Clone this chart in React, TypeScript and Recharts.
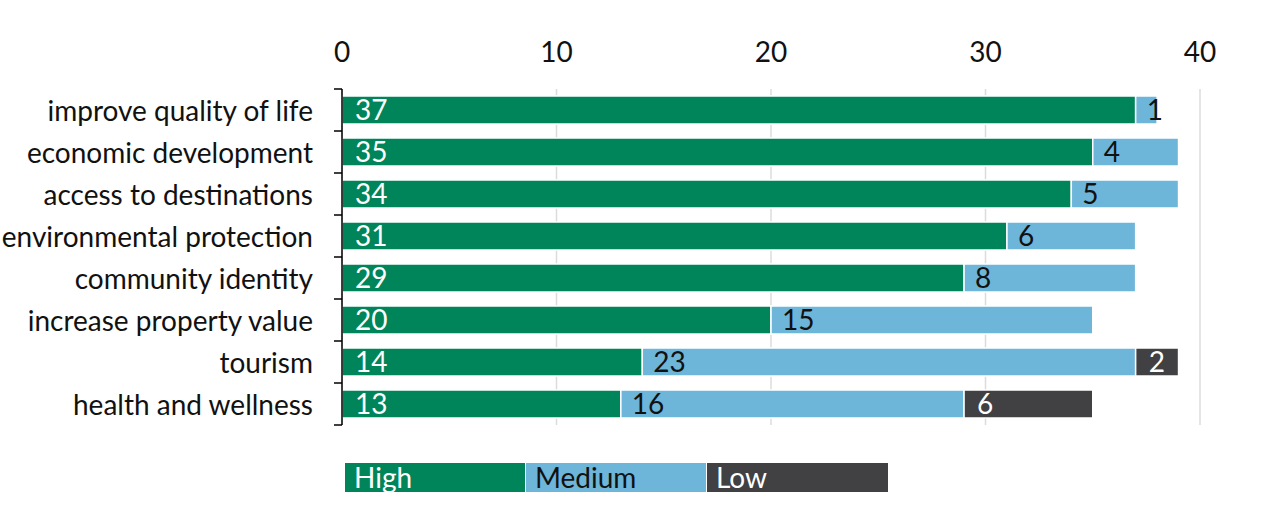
import React from 'react';
import { BarChart, Bar, XAxis, YAxis, CartesianGrid, LabelList } from 'recharts';

const categories = [
  'improve quality of life',
  'economic development',
  'access to destinations',
  'environmental protection',
  'community identity',
  'increase property value',
  'tourism',
  'health and wellness',
];
const highValues = [37, 35, 34, 31, 29, 20, 14, 13];
const mediumValues = [1, 4, 5, 6, 8, 15, 23, 16];
const lowValues = [0, 0, 0, 0, 0, 0, 2, 6];
const xTicks = [0, 10, 20, 30, 40];

const seriesNames = ['High', 'Medium', 'Low'];
const COLORS = ['#00855a', '#6db5d9', '#414042'];
const LABEL_COLORS = ['#ffffff', '#111111', '#ffffff'];

const data = categories.map((c, i) => ({
  name: c,
  High: highValues[i],
  Medium: mediumValues[i],
  Low: lowValues[i],
}));

const W = 1266;
const H = 514;
const MARGIN = { top: 0, right: 66, bottom: 89, left: 0 };
const X_AXIS_H = 89;
const Y_AXIS_W = 342;
const PLOT_H = H - MARGIN.top - MARGIN.bottom - X_AXIS_H;
const BAND = PLOT_H / categories.length;
const AXIS_X = MARGIN.left + Y_AXIS_W;
const FONT = 'Lato, "Open Sans", sans-serif';
const FS = 28;

const YTick = (props: any) => {
  const { y, payload, index } = props;
  const top = y - BAND / 2;
  return (
    <g>
      <line x1={AXIS_X - 8} x2={AXIS_X} y1={top} y2={top} stroke="#000" strokeWidth={1.5} />
      {index === categories.length - 1 && (
        <line x1={AXIS_X - 8} x2={AXIS_X} y1={y + BAND / 2} y2={y + BAND / 2} stroke="#000" strokeWidth={1.5} />
      )}
      <text x={AXIS_X - 29} y={y} textAnchor="end" dominantBaseline="central" fontSize={FS} fill="#111" fontFamily={FONT}>
        {payload.value}
      </text>
    </g>
  );
};

const LegendBox = () => (
  <div style={{ position: 'absolute', top: 463, left: 345, display: 'flex', fontFamily: FONT, fontSize: FS }}>
    {seriesNames.map((n, i) => (
      <div
        key={n}
        style={{
          width: 181,
          height: 29,
          background: COLORS[i],
          color: LABEL_COLORS[i],
          lineHeight: '28px',
          paddingLeft: 9,
          boxSizing: 'border-box',
          borderRight: i < 2 ? '1px solid #fff' : 'none',
        }}
      >
        {n}
      </div>
    ))}
  </div>
);

export default function App() {
  return (
    <div style={{ position: 'absolute', left: 0, top: 0, width: W, height: H, background: '#fff' }}>
      <BarChart width={W} height={H} data={data} layout="vertical" margin={MARGIN} barSize={28}>
        <CartesianGrid horizontal={false} vertical stroke="#dcdcdc" strokeWidth={1.5} />
        <XAxis
          type="number"
          orientation="top"
          domain={[0, 40]}
          ticks={xTicks}
          height={X_AXIS_H}
          axisLine={false}
          tickLine={false}
          tickSize={0}
          tickMargin={27}
          tick={{ fontSize: FS, fill: '#111', fontFamily: FONT }}
        />
        <YAxis
          type="category"
          dataKey="name"
          width={Y_AXIS_W}
          axisLine={{ stroke: '#000', strokeWidth: 1.5 }}
          tickLine={false}
          tick={<YTick />}
          interval={0}
        />
        {seriesNames.map((s, i) => (
          <Bar key={s} dataKey={s} stackId="a" fill={COLORS[i]} stroke="#fff" strokeWidth={1.5} isAnimationActive={false}>
            <LabelList
              dataKey={s}
              position="insideLeft"
              offset={i === 1 ? 11 : 13}
              fill={LABEL_COLORS[i]}
              fontSize={FS}
              fontFamily={FONT}
              formatter={(v: any) => (v ? v : '')}
            />
          </Bar>
        ))}
      </BarChart>
      <LegendBox />
    </div>
  );
}
